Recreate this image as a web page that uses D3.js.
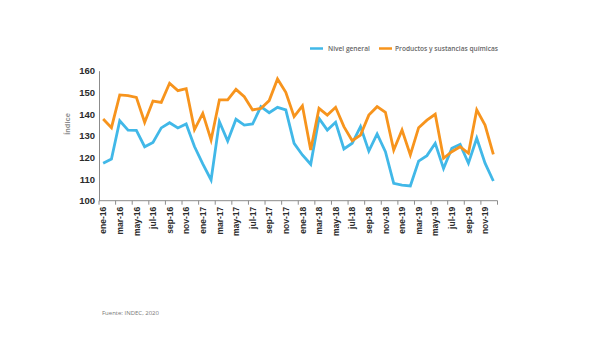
<!DOCTYPE html>
<html><head><meta charset="utf-8">
<script src="https://cdn.jsdelivr.net/npm/d3@7"></script>
<style>body{margin:0;background:#fff}svg{display:block}</style>
</head><body>
<svg id="c" width="595" height="355"></svg>
<script>
const months = ["ene","feb","mar","abr","may","jun","jul","ago","sep","oct","nov","dic"];
const years = ["16","17","18","19"];
const categories = [];
years.forEach(y => months.forEach(m => categories.push(m + "-" + y)));

const nivelGeneral = [117.3,119.2,136.9,132.6,132.5,124.9,126.9,133.6,136.0,133.6,135.4,125.0,
  117.0,109.6,136.5,127.5,137.6,134.9,135.4,143.4,140.6,143.1,141.9,126.5,
  121.1,116.8,138.0,132.6,136.2,123.9,126.5,134.2,122.9,130.8,122.6,108.0,
  107.2,106.8,118.3,120.8,126.5,114.9,124.2,126.0,117.3,128.8,117.3,109.1];
const productosQuimicos = [137.7,133.7,148.8,148.5,147.7,136.2,146.0,145.4,154.2,150.8,151.7,132.8,
  140.3,128.0,146.5,146.5,151.4,148.0,141.9,142.6,146.2,156.2,150.0,138.8,
  143.8,123.4,142.6,139.5,143.1,134.2,127.7,130.3,139.5,143.4,140.8,123.4,
  132.6,121.1,133.7,137.2,139.9,119.6,122.6,124.9,121.9,141.9,134.9,121.4];
const yTicks = [100,110,120,130,140,150,160];
const seriesNames = ["Nivel general","Productos y sustancias químicas"];
const colors = ["#41b8e8","#f7941d"];

const svg = d3.select("#c");
const x0 = 99, x1 = 497.5, yTop = 70.7, yBot = 200.7;
const x = d3.scaleBand().domain(categories).range([x0, x1]);
const y = d3.scaleLinear().domain([100,160]).range([yBot, yTop]);

// y axis
const yAx = svg.append("g").attr("transform", `translate(${x0},0)`)
  .call(d3.axisLeft(y).tickValues(yTicks).tickSize(0).tickPadding(4));
yAx.select(".domain").attr("stroke","#8c8c8c").attr("stroke-width",1);
yAx.selectAll("text").attr("font-family","Liberation Sans, Arial, sans-serif")
  .attr("font-size","9.5px").attr("font-weight","bold").attr("fill","#2b2b2b");

// x axis
const xAx = svg.append("g").attr("transform", `translate(0,${yBot})`);
xAx.append("line").attr("x1", x0).attr("x2", x1).attr("y1",0).attr("y2",0)
  .attr("stroke","#8c8c8c").attr("stroke-width",1);
const tickCats = categories.filter((d,i) => i % 2 === 0);
xAx.selectAll("line.tk").data(tickCats.concat(["__end"])).enter().append("line")
  .attr("class","tk")
  .attr("x1", d => d === "__end" ? x1 : x(d)).attr("x2", d => d === "__end" ? x1 : x(d))
  .attr("y1",0).attr("y2",4).attr("stroke","#8c8c8c").attr("stroke-width",1);
xAx.selectAll("text").data(tickCats).enter().append("text")
  .attr("transform", d => `translate(${x(d) + x.bandwidth()/2 + 3.2},6) rotate(-90)`)
  .attr("text-anchor","end")
  .attr("font-family","Liberation Sans, Arial, sans-serif")
  .attr("font-size","8.5px").attr("font-weight","bold").attr("fill","#2b2b2b")
  .text(d => d);

// y label
svg.append("text").attr("transform","translate(69.5,124) rotate(-90)")
  .attr("text-anchor","middle").attr("font-family","Liberation Sans, Arial, sans-serif")
  .attr("font-size","7.5px").attr("font-weight","bold").attr("fill","#8a8a8a").text("Índice");

// lines
const line = d3.line().x((d,i) => x(categories[i]) + x.bandwidth()/2).y(d => y(d));
[nivelGeneral, productosQuimicos].forEach((s, k) => {
  svg.append("path").datum(s).attr("d", line).attr("fill","none")
    .attr("stroke", colors[k]).attr("stroke-width", 2.8).attr("stroke-linejoin","miter");
});

// legend
const leg = [{x:310, tx:328}, {x:379, tx:395}];
seriesNames.forEach((n,k) => {
  svg.append("line").attr("x1", leg[k].x).attr("x2", leg[k].x + 13).attr("y1", 48.5).attr("y2", 48.5)
    .attr("stroke", colors[k]).attr("stroke-width", 2.5);
  svg.append("text").attr("x", leg[k].tx).attr("y", 51).attr("font-family","Open Sans, sans-serif")
    .attr("font-size","6.6px").attr("font-weight","600").attr("fill","#666").text(n);
});

// source
svg.append("text").attr("x",102).attr("y",315).attr("font-family","Open Sans, sans-serif")
  .attr("font-size","6px").attr("fill","#777").text("Fuente: INDEC, 2020");
</script>
</body></html>
